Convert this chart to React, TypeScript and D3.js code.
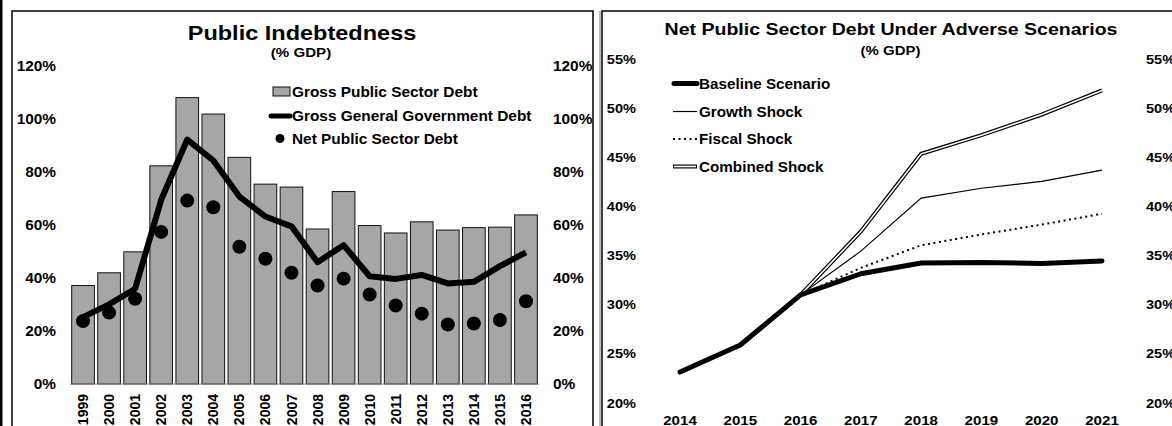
import React from "react"
import * as d3 from "d3"

// left chart data (% of GDP)
const years = ["1999","2000","2001","2002","2003","2004","2005","2006","2007","2008","2009","2010","2011","2012","2013","2014","2015","2016"]
const grossPublicSector = [37.1, 41.9, 49.8, 82.2, 107.9, 101.7, 85.4, 75.3, 74.2, 58.4, 72.5, 59.7, 56.9, 61.1, 58.0, 58.9, 59.1, 63.7]
const grossGeneralGov = [25.2, 30.0, 35.9, 69.4, 92.1, 84.2, 70.6, 63.1, 59.4, 45.9, 52.3, 40.6, 39.6, 41.1, 37.9, 38.5, 44.4, 49.6]
const netPublicSector = [23.7, 26.9, 32.1, 57.3, 69.1, 66.6, 51.7, 47.2, 41.9, 37.1, 39.7, 33.7, 29.6, 26.5, 22.4, 22.8, 24.1, 31.2]
const leftTicks = [0, 20, 40, 60, 80, 100, 120]

// right chart data (% of GDP)
const scenYears = ["2014","2015","2016","2017","2018","2019","2020","2021"]
const baseline = [23.1, 25.85, 30.95, 33.1, 34.2, 34.25, 34.15, 34.4]
const growthShock = [null, null, 30.95, 35.4, 40.8, 41.8, 42.5, 43.65]
const fiscalShock = [null, null, 30.95, 33.7, 36.0, 37.1, 38.1, 39.2]
const combinedShock = [null, null, 30.95, 37.4, 45.3, 47.2, 49.3, 51.75]
const rightTicks = [20, 25, 30, 35, 40, 45, 50, 55]

const FONT = "'Liberation Sans', Arial, sans-serif"

// bold text, squeezed/stretched horizontally like the original export
function T({ x, y, size, sx = 1, anchor = "start", children }: any) {
  return (
    <text transform={`translate(${x},${y}) scale(${sx},1)`} fontSize={size} fontWeight="bold"
      fontFamily={FONT} textAnchor={anchor} fill="#000">{children}</text>
  )
}

function LeftChart() {
  const x = d3.scaleBand().domain(years).range([70, 539]).paddingInner(0.13).paddingOuter(0.065)
  const y = d3.scaleLinear().domain([0, 120]).range([384, 65.5])
  const cx = (d: string) => (x(d) as number) + x.bandwidth() / 2
  const line = d3.line<number>().x((d, i) => cx(years[i])).y(d => y(d))

  return (
    <g>
      <rect x={12} y={11} width={581} height={430} fill="#fff" stroke="#000" strokeWidth={1.5} />
      <T x={302} y={40} size={21} sx={1.12} anchor="middle">Public Indebtedness</T>
      <T x={301} y={57} size={13.5} sx={1.12} anchor="middle">(% GDP)</T>

      {leftTicks.map(t => (
        <g key={t}>
          <T x={56} y={y(t) + 5} size={14} sx={1.1} anchor="end">{t}%</T>
          <T x={553} y={y(t) + 5} size={14} sx={1.1}>{t}%</T>
        </g>
      ))}

      {years.map((d, i) => (
        <rect key={d} x={x(d)} y={y(grossPublicSector[i])} width={x.bandwidth()}
          height={y(0) - y(grossPublicSector[i])} fill="#a6a6a6" stroke="#111" strokeWidth={1} />
      ))}
      <line x1={70} x2={539} y1={y(0)} y2={y(0)} stroke="#888" strokeWidth={1} />

      <path d={line(grossGeneralGov) as string} fill="none" stroke="#000" strokeWidth={6} strokeLinejoin="round" />
      {years.map((d, i) => (
        <circle key={d} cx={cx(d)} cy={y(netPublicSector[i])} r={7} fill="#000" />
      ))}

      {years.map(d => (
        <text key={d} transform={`translate(${cx(d)},394) rotate(-90)`} dy="0.36em" fontSize={14}
          fontWeight="bold" fontFamily={FONT} textAnchor="end">{d}</text>
      ))}

      {/* legend */}
      <rect x={273} y={87} width={17} height={9} fill="#a6a6a6" stroke="#111" strokeWidth={1} />
      <T x={292} y={97} size={14} sx={1.1}>Gross Public Sector Debt</T>
      <line x1={271} x2={290} y1={116} y2={116} stroke="#000" strokeWidth={5} strokeLinecap="round" />
      <T x={292} y={121} size={14} sx={1.1}>Gross General Government Debt</T>
      <circle cx={280} cy={138.5} r={4.5} fill="#000" />
      <T x={292} y={143.5} size={14} sx={1.1}>Net Public Sector Debt</T>
    </g>
  )
}

function RightChart() {
  const x = d3.scalePoint().domain(scenYears).range([680, 1102])
  const y = d3.scaleLinear().domain([20, 55]).range([402.5, 58.5])
  const line = d3.line<number | null>()
    .defined(d => d != null)
    .x((d, i) => x(scenYears[i]) as number)
    .y(d => y(d as number))

  return (
    <g>
      <line x1={600} x2={600} y1={11} y2={430} stroke="#777" strokeWidth={1} />
      <rect x={602} y={11} width={600} height={430} fill="#fff" stroke="#000" strokeWidth={1.5} />
      <T x={891} y={35} size={17} sx={1.15} anchor="middle">Net Public Sector Debt Under Adverse Scenarios</T>
      <T x={890.5} y={55} size={13} sx={1.15} anchor="middle">(% GDP)</T>

      {rightTicks.map(t => (
        <g key={t}>
          <T x={636} y={y(t) + 5} size={13.5} sx={1.08} anchor="end">{t}%</T>
          <T x={1146} y={y(t) + 5} size={13.5} sx={1.08}>{t}%</T>
        </g>
      ))}
      {scenYears.map(d => (
        <T key={d} x={x(d)} y={425} size={13.5} sx={1.12} anchor="middle">{d}</T>
      ))}

      <path d={line(combinedShock) as string} fill="none" stroke="#000" strokeWidth={4} />
      <path d={line(combinedShock) as string} fill="none" stroke="#fff" strokeWidth={1.6} />
      <path d={line(growthShock) as string} fill="none" stroke="#000" strokeWidth={1.2} />
      <path d={line(fiscalShock) as string} fill="none" stroke="#000" strokeWidth={2} strokeDasharray="2 3.5" />
      <path d={line(baseline) as string} fill="none" stroke="#000" strokeWidth={5} strokeLinecap="round" strokeLinejoin="round" />

      {/* legend */}
      <line x1={674} x2={697} y1={83.5} y2={83.5} stroke="#000" strokeWidth={5} strokeLinecap="round" />
      <T x={699} y={88.5} size={14} sx={1.09}>Baseline Scenario</T>
      <line x1={673} x2={697} y1={111.5} y2={111.5} stroke="#000" strokeWidth={1.2} />
      <T x={699} y={116.5} size={14} sx={1.09}>Growth Shock</T>
      <line x1={673} x2={697} y1={139} y2={139} stroke="#000" strokeWidth={2} strokeDasharray="2 3.5" />
      <T x={699} y={144} size={14} sx={1.09}>Fiscal Shock</T>
      <line x1={673} x2={697} y1={166.5} y2={166.5} stroke="#000" strokeWidth={4} />
      <line x1={674} x2={696} y1={166.5} y2={166.5} stroke="#fff" strokeWidth={1.6} />
      <T x={699} y={171.5} size={14} sx={1.09}>Combined Shock</T>
    </g>
  )
}

export default function App() {
  return (
    <svg width={1172} height={426} style={{ position: "fixed", left: 0, top: 0, background: "#fff" }}>
      <rect x={0} y={0} width={1172} height={426} fill="#fff" />
      <rect x={0} y={0} width={2.5} height={426} fill="#000" />
      <LeftChart />
      <RightChart />
    </svg>
  )
}
